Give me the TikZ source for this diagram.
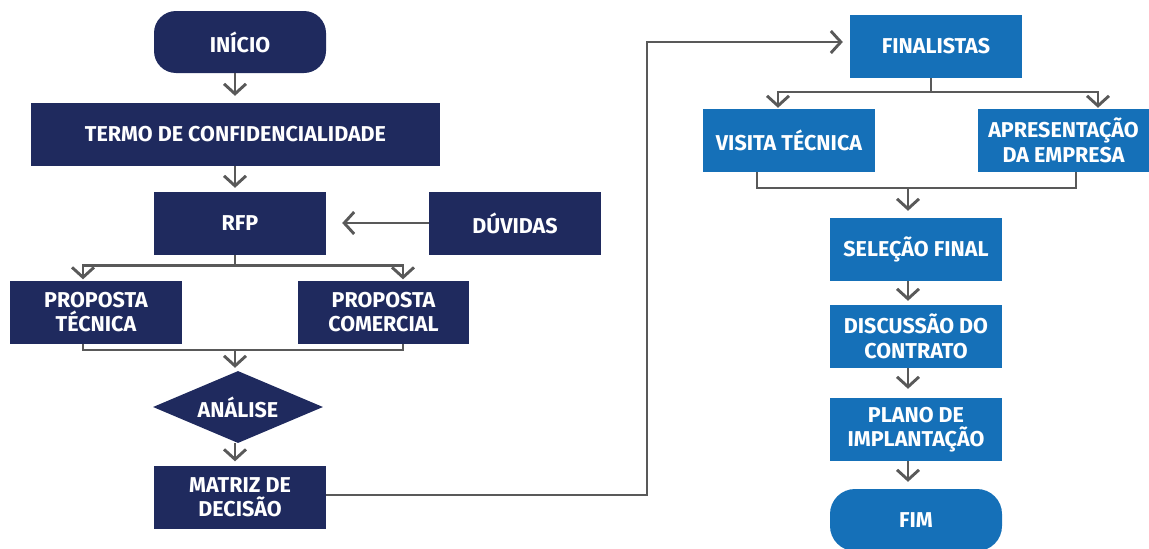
\documentclass[tikz,border=0pt]{standalone}
\usepackage{fontspec}
\setmainfont{Fira Sans}
\usetikzlibrary{arrows.meta,shapes.geometric,calc}
\definecolor{navy}{RGB}{31,42,94}
\definecolor{azul}{RGB}{21,112,184}
\definecolor{linha}{RGB}{89,89,89}
\begin{document}
\begin{tikzpicture}[x=1pt,y=-1pt,
  txt/.style={text=white,font=\fontsize{21.5}{24.5}\selectfont\bfseries,align=center,inner sep=0pt},
  nbox/.style={txt,fill=navy,minimum width=172pt,minimum height=63pt},
  bbox/.style={txt,fill=azul,minimum width=172pt,minimum height=63pt},
  conn/.style={draw=linha,line width=2.9pt},
  arr/.style={conn,-{Straight Barb[length=10pt,width=22pt,line width=2.9pt]}}]
\useasboundingbox (0,0) rectangle (1149,549);
% columns
\coordinate (cL) at (235,0);
\coordinate (cR) at (908,0);
% left nodes
\node[nbox,rounded corners=22pt,minimum height=62pt] (inicio) at (240,42) {INÍCIO};
\node[nbox,minimum width=409pt] (termo) at (235.5,134.5) {TERMO DE CONFIDENCIALIDADE};
\node[nbox] (rfp) at (240,223.5) {RFP};
\node[nbox] (duv) at (515,223) {DÚVIDAS};
\node[nbox] (ptec) at (96,312) {PROPOSTA\\TÉCNICA};
\node[nbox,minimum width=171pt] (pcom) at (383.5,312) {PROPOSTA\\COMERCIAL};
\node[txt,fill=navy,diamond,aspect=2.36,minimum width=170pt,minimum height=72pt] (anal) at (238,407) {ANÁLISE};
\node[nbox] (matriz) at (240,497) {MATRIZ DE\\DECISÃO};
% right nodes
\node[bbox] (fin) at (936,46.5) {FINALISTAS};
\node[bbox] (visita) at (789,140.5) {VISITA TÉCNICA};
\node[bbox,minimum width=171pt] (apres) at (1063.5,140.5) {APRESENTAÇÃO\\DA EMPRESA};
\node[bbox] (sel) at (916,249.5) {SELEÇÃO FINAL};
\node[bbox] (disc) at (916,336.5) {DISCUSSÃO DO\\CONTRATO};
\node[bbox] (plano) at (916,429.5) {PLANO DE\\IMPLANTAÇÃO};
\node[bbox,rounded corners=25pt,minimum height=62pt] (fim) at (916,520) {FIM};
% junction coordinates
\coordinate (jr) at ($(rfp.south -| cL)+(0,10)$);
\coordinate (jp) at (235,350);
\coordinate (bend1) at (647,495);
\coordinate (bend2) at (647,42);
\coordinate (jf) at (931,92);
\coordinate (jv) at (908,188);
% left connectors
\draw[arr,shorten >=7pt] (inicio.south -| cL) -- (termo.north -| cL);
\draw[arr,shorten >=4pt] (termo.south -| cL) -- (rfp.north -| cL);
\draw[arr,shorten >=16pt] (duv.west) -- (rfp.east |- duv.west);
\draw[conn] (rfp.south -| cL) -- (jr);
\draw[arr,shorten >=1pt] (jr) -| ($(ptec.north)+(-13,0)$);
\draw[arr,shorten >=1pt] (jr) -| ($(pcom.north)+(19.5,0)$);
\draw[conn] ($(ptec.south)+(-13,0)$) |- (jp) -| ($(pcom.south)+(19.5,0)$);
\draw[arr,shorten >=3pt] (jp) -- (anal.north -| cL);
\draw[arr,shorten >=4pt] (anal.south -| cL) -- (matriz.north -| cL);
\draw[arr,shorten >=7pt] (matriz.east |- bend1) -- (bend1) -- (bend2) -- (fin.west |- bend2);
% right connectors
\draw[conn] (fin.south -| jf) -- (jf);
\draw[arr,shorten >=1pt] (jf) -| ($(visita.north)+(-11,0)$);
\draw[arr,shorten >=1pt] (jf) -| ($(apres.north)+(34.5,0)$);
\draw[conn] ($(visita.south)+(-32,0)$) |- (jv) -| ($(apres.south)+(12.5,0)$);
\draw[arr,shorten >=7pt] (jv) -- (sel.north -| cR);
\draw[arr,shorten >=4pt] (sel.south -| cR) -- (disc.north -| cR);
\draw[arr,shorten >=9pt] (disc.south -| cR) -- (plano.north -| cR);
\draw[arr,shorten >=7pt] (plano.south -| cR) -- (fim.north -| cR);
\end{tikzpicture}
\end{document}
